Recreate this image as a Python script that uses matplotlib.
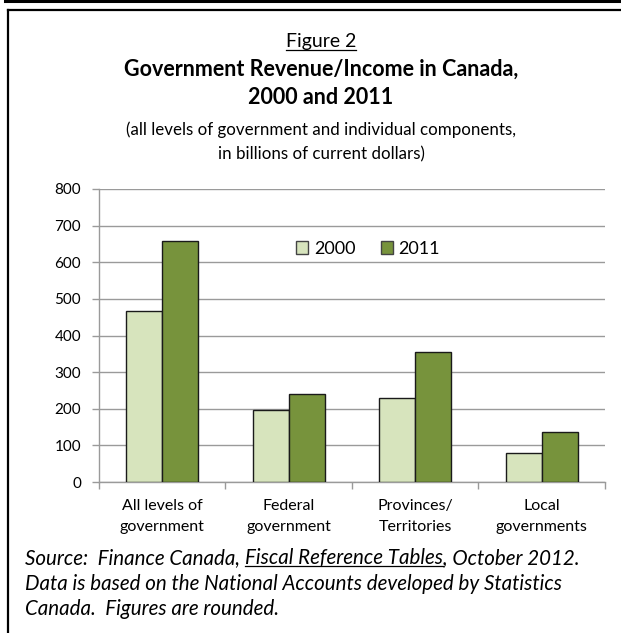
import matplotlib
matplotlib.use("Agg")
import matplotlib.pyplot as plt
import numpy as np
from matplotlib.lines import Line2D

categories = ["All levels of\ngovernment", "Federal\ngovernment", "Provinces/\nTerritories", "Local\ngovernments"]
years = ["2000", "2011"]
values_2000 = [468, 197, 229, 80]
values_2011 = [659, 241, 356, 137]
yticks = [0, 100, 200, 300, 400, 500, 600, 700, 800]

plt.rcParams['font.family'] = ['Lato', 'DejaVu Sans']

W, H = 621, 633
fig = plt.figure(figsize=(W / 100, H / 100), dpi=100)

# frame lines
fig.add_artist(Line2D([5 / W, 1], [1 - 1 / H, 1 - 1 / H], color='black', lw=2.2, transform=fig.transFigure))
fig.add_artist(Line2D([7.5 / W, 1], [1 - 10 / H, 1 - 10 / H], color='black', lw=1.6, transform=fig.transFigure))
fig.add_artist(Line2D([7.5 / W, 7.5 / W], [0, 1 - 10 / H], color='black', lw=1.6, transform=fig.transFigure))

ax = fig.add_axes([99 / W, 1 - 482 / H, (605 - 99) / W, (482 - 189) / H])
x = np.arange(len(categories))
bw = 0.285
light = '#D7E4BD'
dark = '#77933C'
ax.bar(x - bw / 2, values_2000, bw, color=light, edgecolor='#1a1a1a', linewidth=1.0, label=years[0], zorder=3)
ax.bar(x + bw / 2, values_2011, bw, color=dark, edgecolor='#1a1a1a', linewidth=1.0, label=years[1], zorder=3)

ax.set_xlim(-0.5, len(categories) - 0.5)
ax.set_ylim(0, 800)
ax.set_yticks(yticks)
ax.set_yticklabels([str(v) for v in yticks], fontsize=11)
ax.yaxis.grid(True, color='#9a9a9a', lw=1.0, zorder=0)
ax.set_axisbelow(True)
ax.set_xticks(x)
ax.set_xticklabels(categories, fontsize=11.5, linespacing=1.7)
ax.tick_params(axis='x', which='major', length=0, pad=12)
ax.set_xticks(np.arange(-0.5, len(categories), 1.0), minor=True)
ax.tick_params(axis='x', which='minor', length=5, color='#9a9a9a', width=1)
ax.tick_params(axis='y', length=5, color='#9a9a9a', width=1, pad=8)
for s in ['top', 'right']:
    ax.spines[s].set_visible(False)
for s in ['left', 'bottom']:
    ax.spines[s].set_color('#9a9a9a')
    ax.spines[s].set_linewidth(1.0)

leg = fig.legend(loc='center', bbox_to_anchor=(368 / W, 1 - 249 / H), ncol=2, frameon=False,
                 fontsize=13, handlelength=0.7, handleheight=0.7, handletextpad=0.3,
                 columnspacing=1.4)
for p in leg.get_patches():
    p.set_edgecolor('#444444')

# titles
cx = 321 / W
t1 = fig.text(cx, 1 - 42 / H, "Figure 2", ha='center', va='center', fontsize=14)
fig.text(cx, 1 - 69 / H, "Government Revenue/Income in Canada,", ha='center', va='center', fontsize=15.5, fontweight='bold')
fig.text(cx, 1 - 97 / H, "2000 and 2011", ha='center', va='center', fontsize=15.5, fontweight='bold')
fig.text(cx, 1 - 130 / H, "(all levels of government and individual components,", ha='center', va='center', fontsize=12.2)
fig.text(cx, 1 - 154 / H, "in billions of current dollars)", ha='center', va='center', fontsize=12.2)

fs = 14.8
x0 = 25 / W
y1, y2, y3 = 1 - 558 / H, 1 - 584 / H, 1 - 609 / H
src1a = "Source:  Finance Canada, "
src1b = "Fiscal Reference Tables"
src1c = ", October 2012."
ta = fig.text(x0, y1, src1a, ha='left', va='center', fontsize=fs, style='italic')
fig.text(x0, y2, "Data is based on the National Accounts developed by Statistics", ha='left', va='center', fontsize=fs, style='italic')
fig.text(x0, y3, "Canada.  Figures are rounded.", ha='left', va='center', fontsize=fs, style='italic')

fig.canvas.draw()
r = fig.canvas.get_renderer()
bb = ta.get_window_extent(r)
tb = fig.text(bb.x1 / W, y1, src1b, ha='left', va='center', fontsize=fs, style='italic')
fig.canvas.draw()
bb2 = tb.get_window_extent(r)
fig.text(bb2.x1 / W, y1, src1c, ha='left', va='center', fontsize=fs, style='italic')
fig.add_artist(Line2D([bb2.x0 / W, bb2.x1 / W], [(bb2.y0 + 2) / H] * 2, color='black', lw=0.9, transform=fig.transFigure))
b1 = t1.get_window_extent(r)
fig.add_artist(Line2D([b1.x0 / W, b1.x1 / W], [(b1.y0 + 1) / H] * 2, color='black', lw=0.9, transform=fig.transFigure))

fig.savefig("out.png", dpi=100)
